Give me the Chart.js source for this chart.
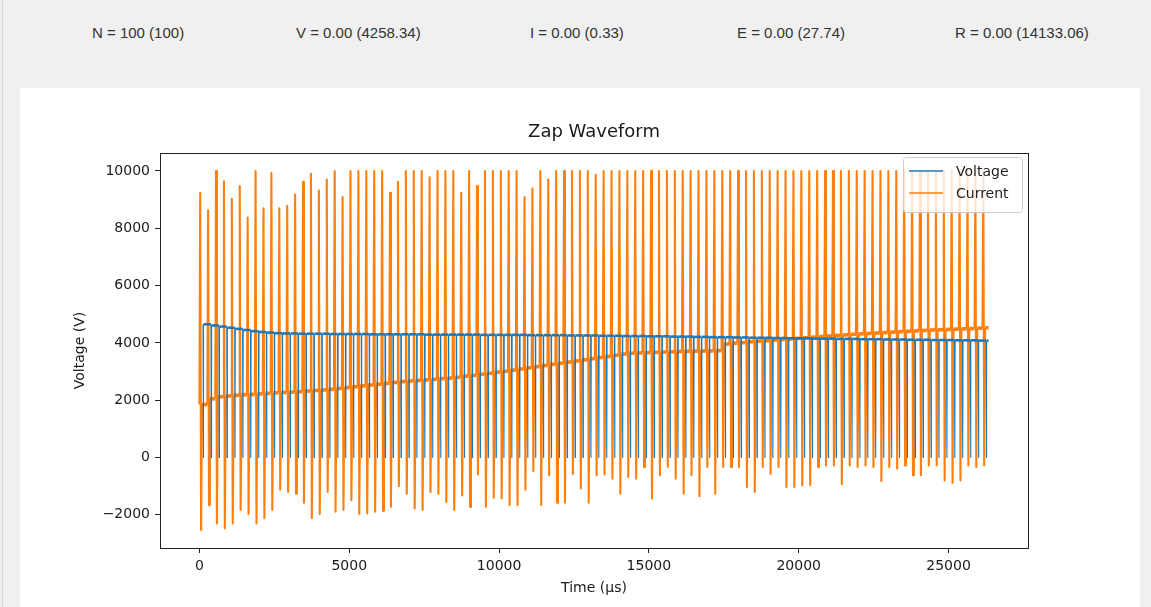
<!DOCTYPE html>
<html>
<head>
<meta charset="utf-8">
<title>Zap Waveform</title>
<script src="https://cdn.jsdelivr.net/npm/chart.js@4.4.1/dist/chart.umd.min.js"></script>
<style>
    html, body { margin: 0; padding: 0; }
    body {
        width: 1151px; height: 607px; overflow: hidden; position: relative;
        background: #f0f0f0;
        font-family: "Liberation Sans", Arial, sans-serif;
    }
    .edge { position: absolute; left: 2px; top: 0; width: 1px; height: 607px; background: #d8d8d8; }
    .stat { position: absolute; top: 24px; font-size: 15px; color: #333; white-space: pre; }
    #panel { position: absolute; left: 20px; top: 88px; width: 1120px; height: 519px; background: #fff; }
    #panel canvas { position: absolute; left: 0; top: 0; }
</style>
</head>
<body>
<div class="edge"></div>
<div id="stats"></div>
<div id="panel"><canvas id="zap-chart" width="1120" height="519"></canvas></div>

<script>
// ── Readout strip ───────────────────────────────────────────
const statNames  = ['N', 'V', 'I', 'E', 'R'];
const statLast   = ['100', '0.00', '0.00', '0.00', '0.00'];
const statTotals = ['100', '4258.34', '0.33', '27.74', '14133.06'];

// ── Axis ticks ──────────────────────────────────────────────
const xTicks = [0, 5000, 10000, 15000, 20000, 25000];
const yTicks = [-2000, 0, 2000, 4000, 6000, 8000, 10000];

// ── Shot timing (µs) ────────────────────────────────────────
const pulsePeriod = 264;               // spacing between shots
const tailLength = 200;                // trace kept after the last shot
const currentShape = [0, 25, 55, 85];  // start, peak, trough, settle
const voltageShape = [120, 130, 140];  // start of collapse, floor, recovered

// ── Current trace, one entry per shot ───────────────────────
const currentPeaks = [
    9240, 8630, 10000, 9640, 9030, 9470, 8370, 10000, 8700, 9930,
    8700, 8780, 9180, 9620, 9900, 9320, 9700, 10000, 9090, 10000,
    10000, 10000, 10000, 10000, 9240, 9620, 10000, 10000, 10000, 9780,
    10000, 10000, 10000, 9240, 10000, 9470, 10000, 10000, 10000, 10000,
    10000, 9090, 9390, 10000, 9700, 10000, 10000, 10000, 10000, 10000,
    9870, 10000, 10000, 10000, 10000, 10000, 10000, 10000, 10000, 10000,
    10000, 10000, 10000, 10000, 10000, 10000, 10000, 10000, 10000, 10000,
    10000, 10000, 10000, 10000, 10000, 10000, 10000, 10000, 10000, 10000,
    10000, 10000, 10000, 10000, 10000, 10000, 10000, 10000, 10000, 10000,
    10000, 10000, 10000, 10000, 10000, 10000, 10000, 10000, 10000, 10000
];
const currentTroughs = [
    -2530, -1660, -2300, -2470, -2300, -1830, -1970, -2300, -2120, -1830,
    -1120, -1200, -1260, -1580, -2120, -1970, -1200, -1890, -1830, -1490,
    -1970, -1950, -1890, -1860, -1720, -1000, -1260, -1780, -1830, -1200,
    -1260, -1550, -1830, -1320, -1720, -590, -1720, -1400, -1430, -1660,
    -1660, -1120, -470, -1660, -620, -1580, -1580, -570, -1080, -1580,
    -620, -590, -740, -1260, -680, -740, -330, -1430, -620, -330,
    -740, -1260, -620, -1350, -330, -1260, -330, -330, -330, -1030,
    -1200, -330, -570, -330, -1030, -1030, -970, -970, -330, -280,
    -280, -930, -280, -330, -280, -330, -820, -330, -390, -280,
    -620, -620, -280, -280, -800, -890, -800, -280, -330, -280
];
const currentLevels = [
    1850, 2050, 2120, 2150, 2170, 2190, 2200, 2220, 2240, 2260,
    2270, 2280, 2300, 2320, 2340, 2360, 2380, 2410, 2440, 2470,
    2500, 2530, 2560, 2590, 2620, 2650, 2670, 2690, 2710, 2730,
    2750, 2770, 2800, 2840, 2870, 2910, 2940, 2980, 3010, 3050,
    3090, 3130, 3170, 3210, 3250, 3290, 3330, 3370, 3410, 3450,
    3490, 3530, 3570, 3610, 3640, 3650, 3660, 3670, 3680, 3690,
    3700, 3705, 3710, 3715, 3720, 3730, 3960, 3990, 4010, 4040,
    4060, 4080, 4100, 4120, 4140, 4160, 4180, 4200, 4220, 4240,
    4260, 4280, 4300, 4315, 4330, 4345, 4360, 4375, 4390, 4405,
    4420, 4435, 4450, 4460, 4470, 4480, 4490, 4500, 4515, 4530
];

// ── Voltage trace, one entry per shot ───────────────────────
const voltageLevels = [
    4650, 4610, 4570, 4530, 4490, 4450, 4410, 4380, 4360, 4340,
    4330, 4330, 4320, 4320, 4320, 4320, 4310, 4310, 4310, 4310,
    4310, 4300, 4300, 4300, 4300, 4300, 4300, 4300, 4290, 4290,
    4290, 4290, 4290, 4290, 4290, 4280, 4280, 4280, 4280, 4280,
    4280, 4270, 4270, 4270, 4270, 4270, 4260, 4260, 4260, 4260,
    4250, 4250, 4250, 4240, 4240, 4240, 4230, 4230, 4230, 4220,
    4220, 4220, 4210, 4210, 4200, 4200, 4200, 4190, 4190, 4180,
    4180, 4180, 4170, 4170, 4160, 4160, 4160, 4150, 4150, 4150,
    4140, 4140, 4140, 4130, 4130, 4130, 4120, 4120, 4120, 4110,
    4110, 4110, 4100, 4100, 4100, 4090, 4090, 4090, 4080, 4080
];
const voltageFloor = 0;

// readout strip, left edge of each field
const statLeft = [92, 296, 530, 737, 955];
const statsEl = document.getElementById('stats');
statNames.forEach((name, i) => {
    const el = document.createElement('div');
    el.className = 'stat';
    el.style.left = statLeft[i] + 'px';
    el.textContent = `${name} = ${statLast[i]} (${statTotals[i]})`;
    statsEl.appendChild(el);
});

// ── Build the traces ────────────────────────────────────────
const currentPts = [];
const voltagePts = [];
currentLevels.forEach((level, i) => {
    const t = i * pulsePeriod;
    const iBefore = i ? currentLevels[i - 1] : level;
    const vBefore = i ? voltageLevels[i - 1] : voltageLevels[i];
    const iVals = [iBefore, currentPeaks[i], currentTroughs[i], level];
    const vVals = [vBefore, voltageFloor, voltageLevels[i]];
    currentShape.forEach((dt, k) => currentPts.push({ x: t + dt, y: iVals[k] }));
    voltageShape.forEach((dt, k) => voltagePts.push({ x: t + dt, y: vVals[k] }));
});
const tEnd = (currentLevels.length - 1) * pulsePeriod + tailLength;
currentPts.push({ x: tEnd, y: currentLevels[currentLevels.length - 1] });
voltagePts.push({ x: tEnd, y: voltageLevels[voltageLevels.length - 1] });

// 5% margins round the data, as the original plot does
function padded(lo, hi) {
    const m = (hi - lo) * 0.05;
    return [lo - m, hi + m];
}
const allY = currentPts.concat(voltagePts).map(p => p.y);
const [yMin, yMax] = padded(Math.min(...allY), Math.max(...allY));
const [xMin, xMax] = padded(0, tEnd);

const fmt = v => (v < 0 ? '\u2212' + Math.abs(v) : String(v));
const FONT = 'DejaVu Sans';
const INK = '#1a1a1a';

// box round the plot area, drawn over the traces
const frame = {
    id: 'frame',
    afterDatasetsDraw(chart) {
        const { ctx, chartArea: a } = chart;
        ctx.save();
        ctx.strokeStyle = '#222';
        ctx.lineWidth = 1;
        ctx.strokeRect(Math.round(a.left) + 0.5, Math.round(a.top) + 0.5,
            Math.round(a.right - a.left), Math.round(a.bottom - a.top));
        ctx.restore();
    }
};

// legend tucked into the upper right corner of the plot
const insideLegend = {
    id: 'insideLegend',
    afterDraw(chart) {
        const { ctx, chartArea: a } = chart;
        const w = 119, h = 55;
        const x0 = a.right - 6 - w, y0 = a.top + 4;
        ctx.save();
        ctx.beginPath();
        ctx.roundRect(x0 + 0.5, y0 + 0.5, w, h, 3);
        ctx.fillStyle = 'rgba(255,255,255,0.8)';
        ctx.fill();
        ctx.strokeStyle = '#cccccc';
        ctx.lineWidth = 1;
        ctx.stroke();
        ctx.font = `14px "${FONT}"`;
        ctx.textBaseline = 'middle';
        chart.data.datasets.forEach((ds, i) => {
            const y = y0 + 14 + i * 22;
            ctx.beginPath();
            ctx.moveTo(x0 + 6, y);
            ctx.lineTo(x0 + 40, y);
            ctx.strokeStyle = ds.borderColor;
            ctx.lineWidth = 1.5;
            ctx.stroke();
            ctx.fillStyle = '#222';
            ctx.fillText(ds.label, x0 + 53, y + 1);
        });
        ctx.restore();
    }
};

const axisCommon = {
    type: 'linear',
    border: { display: false },
    grid: { drawOnChartArea: false, drawTicks: true, tickLength: 5, color: '#222', lineWidth: 1 },
};

new Chart(document.getElementById('zap-chart').getContext('2d'), {
    type: 'line',
    data: {
        datasets: [
            {
                label: 'Voltage',
                data: voltagePts,
                borderColor: '#1f77b4',
                borderWidth: 1.1,
                // the flat stretch between shots reads as a heavier band
                segment: { borderWidth: c => (c.p0DataIndex % 3 === 2 ? 2.6 : undefined) }
            },
            {
                label: 'Current',
                data: currentPts,
                borderColor: '#ff7f0e',
                borderWidth: 2.1,
                segment: { borderWidth: c => (c.p0DataIndex % 4 === 3 ? 3.6 : undefined) }
            }
        ]
    },
    options: {
        responsive: false,
        animation: false,
        parsing: false,
        normalized: true,
        events: [],
        elements: {
            point: { radius: 0 },
            line: { tension: 0, fill: false, borderJoinStyle: 'round', borderCapStyle: 'butt' }
        },
        layout: { padding: { left: 0, right: 112, top: 0, bottom: 0 } },
        plugins: {
            legend: { display: false },
            tooltip: { enabled: false },
            title: {
                display: true,
                fullSize: false,
                text: 'Zap Waveform',
                color: INK,
                font: { family: FONT, size: 18, weight: 'normal' },
                padding: { top: 34, bottom: 9.4 }
            }
        },
        scales: {
            x: {
                ...axisCommon,
                min: xMin,
                max: xMax,
                afterFit: s => { s.height = 59; },
                afterBuildTicks: s => { s.ticks = xTicks.map(v => ({ value: v })); },
                ticks: { callback: fmt, color: INK, font: { family: FONT, size: 14 }, padding: 5, maxRotation: 0, autoSkip: false },
                title: { display: true, text: 'Time (µs)', color: INK, font: { family: FONT, size: 14 }, padding: { top: 0, bottom: 10.6 } }
            },
            y: {
                ...axisCommon,
                min: yMin,
                max: yMax,
                afterFit: s => { s.width = 140; },
                afterBuildTicks: s => { s.ticks = yTicks.map(v => ({ value: v })); },
                ticks: { callback: fmt, color: INK, font: { family: FONT, size: 14 }, padding: 5, autoSkip: false },
                title: { display: true, text: 'Voltage (V)', color: INK, font: { family: FONT, size: 14 }, padding: { top: 51.6, bottom: 0 } }
            }
        }
    },
    plugins: [frame, insideLegend]
});
</script>
</body>
</html>
